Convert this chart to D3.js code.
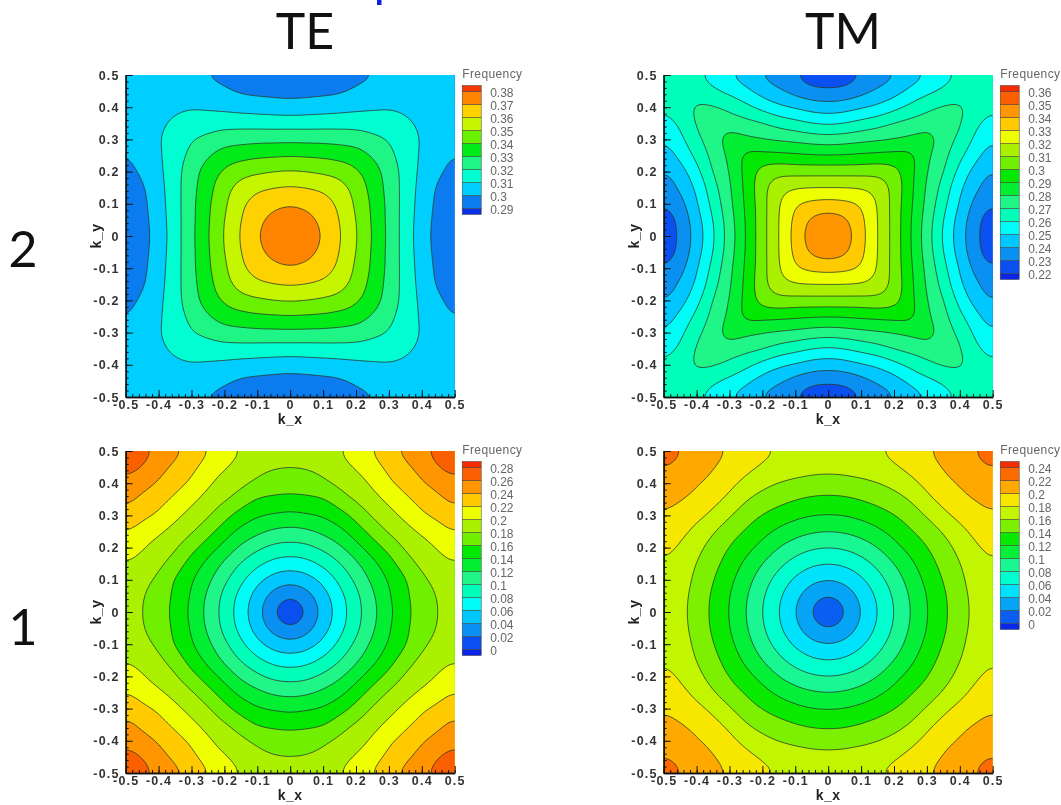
<!DOCTYPE html>
<html>
<head>
<meta charset="utf-8">
<script src="https://cdn.jsdelivr.net/npm/d3@7"></script>
<style>
  html, body { margin: 0; background: #fff; }
  svg { display: block; filter: blur(0.45px); }
  .tick text { font-family: "Liberation Sans", Arial, sans-serif; font-size: 12.5px; font-weight: 700; fill: #333; letter-spacing: 1.2px; }
  .title { font-family: Lato, sans-serif; fill: #111; text-anchor: middle; }
  .axis-name { font-family: "Liberation Sans", Arial, sans-serif; font-size: 14px; font-weight: 700; fill: #222; text-anchor: middle; letter-spacing: 0.5px; }
  .legend-text { font-family: "Liberation Sans", Arial, sans-serif; fill: #666; }
</style>
</head>
<body>
<script>
// contour levels of each panel
const te2Levels = [0.29, 0.30, 0.31, 0.32, 0.33, 0.34, 0.35, 0.36, 0.37, 0.38];
const tm2Levels = [0.22, 0.23, 0.24, 0.25, 0.26, 0.27, 0.28, 0.29, 0.30, 0.31, 0.32, 0.33, 0.34, 0.35, 0.36];
const te1Levels = [0, 0.02, 0.04, 0.06, 0.08, 0.10, 0.12, 0.14, 0.16, 0.18, 0.20, 0.22, 0.24, 0.26, 0.28];
const tm1Levels = [0, 0.02, 0.04, 0.06, 0.08, 0.10, 0.12, 0.14, 0.16, 0.18, 0.20, 0.22, 0.24];

// frequency at k = 0, 0.05 ... 0.5, one quadrant only.
// row i holds f(k_x = i*0.05, k_y = j*0.05) for j >= i, the maps are symmetric in k_x/k_y
const te2Values = [
  [.3785, .3757, .3692, .361, .3507, .3395, .3277, .3156, .3042, .2965, .294],
  [.3735, .3672, .36, .35, .3388, .3275, .3156, .305, .2968, .2942],
  [.3635, .3585, .348, .3385, .3272, .316, .3057, .2975, .2945],
  [.3537, .3465, .3365, .3267, .3162, .3065, .2985, .2955],
  [.3412, .335, .3255, .3165, .3075, .3015, .2975],
  [.3288, .3225, .3155, .3085, .3035, .2995],
  [.3198, .3135, .3095, .3055, .3015],
  [.3115, .3085, .3055, .3035],
  [.3065, .3052, .305],
  [.305, .3055],
  [.306]
];
const tm2Values = [
  [.3525, .3448, .3338, .32, .3065, .2903, .2747, .2586, .2443, .2319, .2235],
  [.342, .3325, .32, .3065, .2907, .2757, .26, .2457, .2327, .2245],
  [.3293, .3195, .3063, .2917, .2775, .2633, .249, .2365, .2305],
  [.3162, .3072, .2925, .2787, .2665, .2515, .2418, .2345],
  [.3037, .2932, .28, .271, .2567, .2458, .2394],
  [.2933, .2817, .2733, .2625, .2527, .2448],
  [.2845, .2755, .2675, .2575, .2505],
  [.277, .2712, .2615, .2568],
  [.2718, .2655, .2612],
  [.267, .264],
  [.2655]
];
const te1Values = [
  [.0005, .0227, .046, .0695, .0925, .114, .135, .1545, .1695, .1805, .1865],
  [.0325, .0515, .0733, .0948, .1165, .138, .1565, .1705, .1815, .188],
  [.0653, .0845, .104, .1245, .142, .158, .1765, .1855, .1925],
  [.0985, .1165, .1345, .1515, .1712, .1848, .1932, .1992],
  [.1333, .1499, .1665, .183, .1925, .2015, .2097],
  [.1671, .1827, .1928, .203, .2115, .2205],
  [.1936, .2045, .2175, .2245, .2335],
  [.2163, .2265, .235, .245],
  [.2379, .2475, .2555],
  [.26, .266],
  [.272]
];
const tm1Values = [
  [.0005, .02, .04, .06, .08, .10, .1193, .136, .1515, .166, .173],
  [.0283, .0447, .0632, .0824, .102, .1205, .137, .1525, .167, .174],
  [.0566, .0721, .0894, .1076, .125, .141, .1555, .1695, .176],
  [.0848, .10, .1157, .1315, .1463, .1595, .172, .1785],
  [.1135, .1265, .1395, .1525, .1655, .1778, .1845],
  [.1385, .1485, .1615, .1745, .1855, .1915],
  [.1618, .1755, .1855, .1935, .198],
  [.1862, .1945, .2008, .2055],
  [.2014, .2105, .2135],
  [.2157, .22],
  [.228]
];

const majorTicks = [-0.5, -0.4, -0.3, -0.2, -0.1, 0, 0.1, 0.2, 0.3, 0.4, 0.5];

const width = 1061, height = 805;
const plotW = 329, plotH = 322;

const panels = [
  {id: 'te2', left: 125.7, top: 75, levels: te2Levels, values: te2Values},
  {id: 'tm2', left: 663.7, top: 75, levels: tm2Levels, values: tm2Values},
  {id: 'te1', left: 125.7, top: 451, levels: te1Levels, values: te1Values},
  {id: 'tm1', left: 663.7, top: 451, levels: tm1Levels, values: tm1Values}
];

const svg = d3.select('body').append('svg')
  .attr('width', width)
  .attr('height', height);

// small rainbow, same stops for every panel, stretched over the legend bands.
// stops picked from the legend colours in the picture
const rainbow = d3.scaleLinear()
  .domain([0, 0.094, 0.156, 0.22, 0.28, 0.344, 0.406, 0.47, 0.53, 0.594, 0.656, 0.72, 0.78, 0.875, 1])
  .range(['#0a10e0', '#0a50f0', '#0a90f0', '#00c8ff', '#00fcf8', '#00ffb8', '#20f588', '#00ee30', '#00e800',
          '#70f000', '#aaf000', '#eeff00', '#ffcc00', '#ff7a00', '#f01000'])
  .interpolate(d3.interpolateRgb);

// the zone is periodic, so pad past the edge and clip: stops the curve rounding the corners
const pad = 3, half = 10 + pad, side = 2 * half + 1;

function fullGrid(rows) {
  const out = new Array(side * side);
  const fold = k => {
    let m = Math.abs(k - half);
    return m > 10 ? 20 - m : m;
  };
  for (let j = 0; j < side; j++) {
    for (let i = 0; i < side; i++) {
      const a = Math.min(fold(i), fold(j)), b = Math.max(fold(i), fold(j));
      out[j * side + i] = rows[a][b - a];
    }
  }
  return out;
}

// only for the marching squares: a cubic pass plus a light blur so the
// lines don't show the 0.05 cell size. the values themselves stay as read
const fine = 5, first = 1, last = side - 2;
const fineSide = (last - first) * fine + 1;

function weights(t) {
  return [
    0.5 * (-t + 2 * t * t - t * t * t),
    0.5 * (2 - 5 * t * t + 3 * t * t * t),
    0.5 * (t + 4 * t * t - 3 * t * t * t),
    0.5 * (-t * t + t * t * t)
  ];
}

function fineGrid(grid) {
  const out = new Array(fineSide * fineSide);
  for (let j = 0; j < fineSide; j++) {
    const v = first + j / fine, j0 = Math.min(Math.floor(v), last - 1), wy = weights(v - j0);
    for (let i = 0; i < fineSide; i++) {
      const u = first + i / fine, i0 = Math.min(Math.floor(u), last - 1), wx = weights(u - i0);
      let s = 0;
      for (let b = 0; b < 4; b++) {
        for (let a = 0; a < 4; a++) {
          s += wy[b] * wx[a] * grid[(j0 - 1 + b) * side + (i0 - 1 + a)];
        }
      }
      out[j * fineSide + i] = s;
    }
  }
  d3.blur2({data: out, width: fineSide, height: fineSide}, 1.5);
  return out;
}

const toK = c => (first + (c - 0.5) / fine - half) * 0.05;

panels.forEach(p => {
  const x = d3.scaleLinear().domain([-0.5, 0.5]).range([p.left, p.left + plotW]);
  const y = d3.scaleLinear().domain([-0.5, 0.5]).range([p.top + plotH, p.top]);

  const nBands = p.levels.length + 1;
  const bandColor = i => rainbow((i + 0.5) / nBands);

  const line = d3.line()
    .x(d => x(toK(d[0])))
    .y(d => y(toK(d[1])))
    .curve(d3.curveLinearClosed);

  const ringPath = geom => geom.coordinates
    .map(poly => poly.map(ring => line(ring.slice(0, -1))).join(''))
    .join('');

  const contours = d3.contours()
    .size([fineSide, fineSide])
    .smooth(true)
    .thresholds(p.levels)(fineGrid(fullGrid(p.values)));

  svg.append('clipPath').attr('id', 'clip-' + p.id)
    .append('rect')
    .attr('x', p.left).attr('y', p.top)
    .attr('width', plotW).attr('height', plotH);

  const g = svg.append('g').attr('clip-path', 'url(#clip-' + p.id + ')');

  g.append('rect')
    .attr('x', p.left).attr('y', p.top)
    .attr('width', plotW).attr('height', plotH)
    .attr('fill', bandColor(0));

  g.selectAll('path.band')
    .data(contours)
    .enter().append('path')
    .attr('class', 'band')
    .attr('d', ringPath)
    .attr('fill', (d, i) => bandColor(i + 1))
    .attr('fill-rule', 'evenodd')
    .attr('stroke', '#2c3a2c')
    .attr('stroke-width', 0.8);

  // ticks point into the plot, only left and bottom are drawn
  const fmt = d => String(d);
  const minor = d3.range(-25, 26).map(d => d * 0.02);
  const styleAxis = sel => sel.call(s => s.select('.domain').attr('stroke', '#111').attr('stroke-width', 1.3))
    .call(s => s.selectAll('line').attr('stroke', '#111'));

  svg.append('g').attr('transform', `translate(${p.left},0)`)
    .call(d3.axisLeft(y).tickValues(minor).tickSize(-3).tickSizeOuter(0).tickFormat(''))
    .call(styleAxis);
  svg.append('g').attr('transform', `translate(${p.left},0)`)
    .call(d3.axisLeft(y).tickValues(majorTicks).tickSize(-7).tickSizeOuter(0).tickFormat(fmt))
    .call(styleAxis)
    .call(s => s.selectAll('text').attr('x', -6));
  svg.append('g').attr('transform', `translate(0,${p.top + plotH})`)
    .call(d3.axisBottom(x).tickValues(minor).tickSize(-3).tickSizeOuter(0).tickFormat(''))
    .call(styleAxis);
  svg.append('g').attr('transform', `translate(0,${p.top + plotH})`)
    .call(d3.axisBottom(x).tickValues(majorTicks).tickSize(-7).tickSizeOuter(0).tickFormat(fmt))
    .call(styleAxis)
    .call(s => s.selectAll('text').attr('y', 3));

  svg.append('text').attr('class', 'axis-name')
    .attr('x', x(0)).attr('y', p.top + plotH + 27)
    .text('k_x');
  svg.append('text').attr('class', 'axis-name')
    .attr('transform', `translate(${p.left - 25},${y(0)}) rotate(-90)`)
    .text('k_y');

  // legend
  const legendX = p.left + plotW + 7.5, legendW = 19;
  const firstLabel = p.top + 18;
  const levelY = d3.scaleLinear()
    .domain([p.levels.length - 1, 0])
    .range([firstLabel - 1.5, firstLabel - 1.5 + 13 * (p.levels.length - 1)]);
  const legend = svg.append('g');

  legend.append('text').attr('class', 'legend-text')
    .attr('x', legendX).attr('y', p.top + 3)
    .attr('font-size', 12)
    .attr('letter-spacing', 0.4)
    .text('Frequency');

  const bandIdx = d3.range(nBands);
  const bandTop = i => i === nBands - 1 ? levelY(p.levels.length - 1) - 6 : levelY(i);
  const bandBottom = i => i === 0 ? levelY(0) + 6 : levelY(i - 1);

  legend.selectAll('rect')
    .data(bandIdx)
    .enter().append('rect')
    .attr('x', legendX).attr('width', legendW)
    .attr('y', bandTop)
    .attr('height', i => bandBottom(i) - bandTop(i))
    .attr('fill', bandColor)
    .attr('stroke', '#3a3a3a')
    .attr('stroke-width', 0.5);

  legend.selectAll('text.level')
    .data(p.levels)
    .enter().append('text')
    .attr('class', 'legend-text level')
    .attr('x', legendX + 28)
    .attr('y', (d, i) => levelY(i) + 5.5)
    .attr('font-size', 12)
    .text(d => String(d));
});

// headings
svg.append('text').attr('class', 'title').attr('x', 305).attr('y', 49).attr('font-size', 50).text('TE');
svg.append('text').attr('class', 'title').attr('x', 843).attr('y', 49).attr('font-size', 50).text('TM');
svg.append('text').attr('class', 'title').attr('x', 23).attr('y', 267).attr('font-size', 50).text('2');
svg.append('text').attr('class', 'title').attr('x', 23).attr('y', 645).attr('font-size', 50).text('1');

// foot of the cut off slide title at the very top
svg.append('rect').attr('x', 377).attr('y', 0).attr('width', 4.5).attr('height', 5).attr('fill', '#1020e0');
</script>
</body>
</html>
